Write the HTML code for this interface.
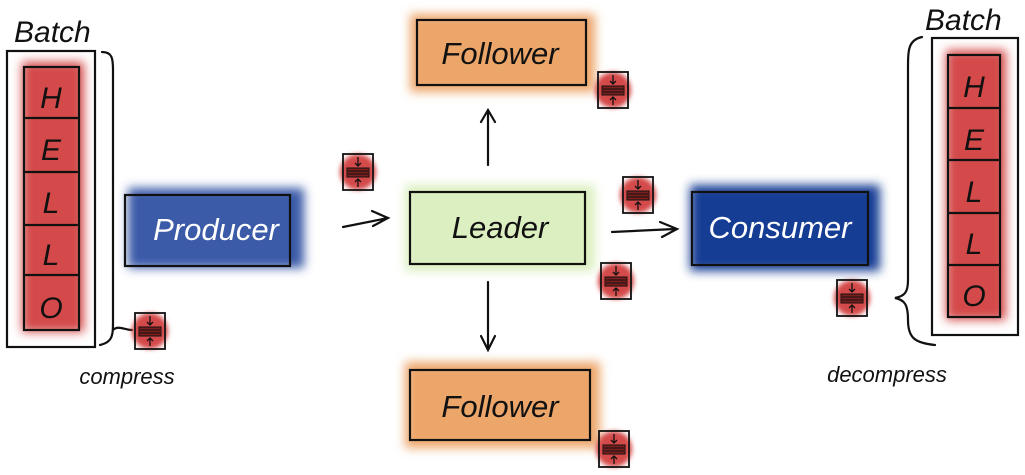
<!DOCTYPE html>
<html><head><meta charset="utf-8"><style>
html,body{margin:0;padding:0;background:#fff;width:1025px;height:475px;overflow:hidden}
svg text{font-family:"Liberation Sans",sans-serif;font-style:italic}
</style></head><body>
<svg width="1025" height="475" viewBox="0 0 1025 475" xmlns="http://www.w3.org/2000/svg">
<defs>
<filter id="b" x="-30%" y="-30%" width="160%" height="160%"><feGaussianBlur stdDeviation="5"/></filter>
<filter id="b2" x="-50%" y="-50%" width="200%" height="200%"><feGaussianBlur stdDeviation="2.5"/></filter>
<g id="ic">
<circle cx="0" cy="0" r="18" fill="#d44a4a" filter="url(#b2)"/>
<rect x="-15" y="-18" width="30" height="36" fill="none" stroke="#111" stroke-width="1.8"/>
<rect x="-11" y="-4" width="22" height="9" fill="#7a1e1e" stroke="#111" stroke-width="1"/>
<line x1="-10" y1="-1" x2="10" y2="-1" stroke="#111"/><line x1="-10" y1="2" x2="10" y2="2" stroke="#111"/>
<path d="M0,-15 V-6 M-3,-9 L0,-6 L3,-9 M0,15 V7 M-3,10 L0,7 L3,10" stroke="#111" stroke-width="1.3" fill="none"/>
</g>
</defs>
<g fill="none" stroke="#111" stroke-width="2.2" stroke-linecap="round">
<rect x="22" y="62" width="62" height="270" fill="#d44a4a" stroke="none" filter="url(#b)"/>
<rect x="7" y="51" width="88" height="296"/>
<rect x="24" y="67" width="55" height="263"/>
<path d="M24,118H79M24,172H77M24,225H77M24,275H79"/>
<path d="M102,52 C112,52 113,58 113,70 V320 C113,335 113,342 100,345 M113,330 C118,325 125,330 132,330"/>
<rect x="946" y="50" width="60" height="270" fill="#d44a4a" stroke="none" filter="url(#b)"/>
<rect x="932" y="38" width="86" height="297"/>
<rect x="948" y="55" width="52" height="262"/>
<path d="M948,108H1000M948,160H1000M948,213H1000M948,265H1000"/>
<path d="M922,37 C908,40 908,50 908,70 V280 C908,292 905,296 895,298 C905,300 908,305 908,320 C908,338 915,343 935,345"/>
<rect x="128" y="188" width="176" height="80" fill="#3a5aa8" stroke="none" filter="url(#b)"/>
<rect x="125" y="195" width="165" height="71"/>
<rect x="405" y="185" width="190" height="86" fill="#dcefc0" stroke="none" filter="url(#b)"/>
<rect x="410" y="192" width="175" height="72"/>
<rect x="410" y="14" width="185" height="78" fill="#eda66a" stroke="none" filter="url(#b)"/>
<rect x="417" y="20" width="169" height="65"/>
<rect x="405" y="362" width="195" height="86" fill="#eda66a" stroke="none" filter="url(#b)"/>
<rect x="410" y="370" width="180" height="70"/>
<rect x="690" y="185" width="190" height="86" fill="#173e94" stroke="none" filter="url(#b)"/>
<rect x="692" y="192" width="176" height="73"/>
<path d="M343,227 L388,218 M372,211 L388,218 L373,226"/>
<path d="M488,165 V110 M481,122 L488,110 L495,122"/>
<path d="M488,282 V350 M481,336 L488,350 L495,336"/>
<path d="M612,232 L675,229 M660,222 L677,229 L662,237"/>
</g>
<use href="#ic" x="150" y="331"/>
<use href="#ic" x="358" y="172"/>
<use href="#ic" x="613" y="90"/>
<use href="#ic" x="638" y="195"/>
<use href="#ic" x="616" y="281"/>
<use href="#ic" x="614" y="449"/>
<use href="#ic" x="852" y="298"/>
<g font-size="30" fill="#111">
<text x="14" y="42">Batch</text>
<text x="925" y="30">Batch</text>
</g>
<g font-size="30" fill="#111" text-anchor="middle">
<text x="51" y="108">H</text><text x="51" y="160">E</text><text x="51" y="213">L</text><text x="51" y="265">L</text><text x="51" y="318">O</text>
<text x="974" y="97">H</text><text x="974" y="150">E</text><text x="974" y="202">L</text><text x="974" y="254">L</text><text x="974" y="306">O</text>
</g>
<g font-size="31" text-anchor="middle">
<text x="216" y="240" fill="#fff">Producer</text>
<text x="500" y="238" fill="#111">Leader</text>
<text x="500" y="64" fill="#111">Follower</text>
<text x="500" y="417" fill="#111">Follower</text>
<text x="780" y="238" fill="#fff">Consumer</text>
</g>
<g font-size="22" fill="#111" text-anchor="middle">
<text x="127" y="384">compress</text>
<text x="887" y="382">decompress</text>
</g>
</svg>
</body></html>
